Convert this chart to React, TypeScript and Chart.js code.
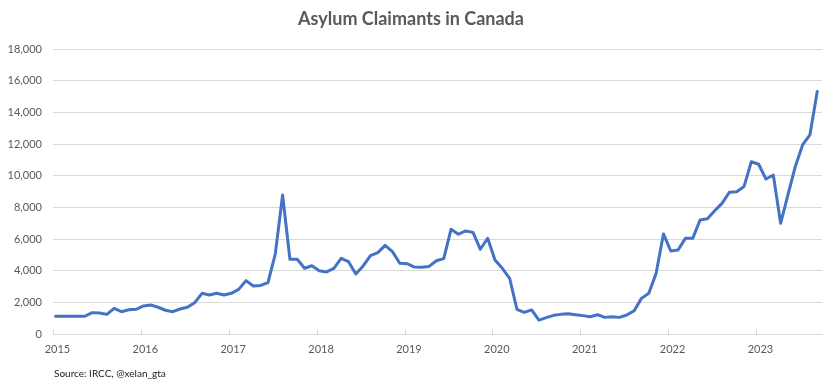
import React, { useEffect, useRef } from "react";
import { Chart, registerables } from "chart.js";

Chart.register(...registerables);

const startYear = 2015;
const yearLabels = ["2015", "2016", "2017", "2018", "2019", "2020", "2021", "2022", "2023"];
const yTicks = [0, 2000, 4000, 6000, 8000, 10000, 12000, 14000, 16000, 18000];

// Monthly asylum claimants, Jan 2015 – Sep 2023
const claims2015 = [1120, 1120, 1120, 1120, 1120, 1350, 1330, 1240, 1620, 1410, 1530, 1560];
const claims2016 = [1770, 1830, 1690, 1500, 1410, 1580, 1690, 1980, 2570, 2460, 2570, 2460];
const claims2017 = [2570, 2820, 3370, 3030, 3070, 3240, 5050, 8780, 4720, 4720, 4150, 4310];
const claims2018 = [4000, 3920, 4150, 4780, 4570, 3790, 4300, 4950, 5140, 5600, 5200, 4470];
const claims2019 = [4440, 4230, 4210, 4270, 4630, 4760, 6610, 6300, 6510, 6420, 5350, 6050];
const claims2020 = [4670, 4150, 3520, 1560, 1370, 1520, 880, 1030, 1180, 1240, 1280, 1220];
const claims2021 = [1160, 1090, 1220, 1050, 1090, 1050, 1200, 1470, 2250, 2570, 3830, 6320];
const claims2022 = [5240, 5310, 6040, 6040, 7200, 7280, 7790, 8250, 8950, 8990, 9310, 10880];
const claims2023 = [10720, 9790, 10040, 6990, 8780, 10570, 11940, 12570, 15310];

const claimants = [
  ...claims2015, ...claims2016, ...claims2017, ...claims2018, ...claims2019,
  ...claims2020, ...claims2021, ...claims2022, ...claims2023,
];

const TEXT = "#595959";
const GRID = "#d9d9d9";
const FONT = "Lato, 'Liberation Sans', sans-serif";

const yearTickMarks = {
  id: "yearTickMarks",
  afterDatasetsDraw(chart: any) {
    const { ctx, chartArea, scales } = chart;
    const x = scales.x;
    ctx.save();
    ctx.strokeStyle = GRID;
    ctx.lineWidth = 1;
    for (let k = 0; k < yearLabels.length; k++) {
      const px = Math.round(x.getPixelForValue(k * 12)) + 0.5;
      ctx.beginPath();
      ctx.moveTo(px, chartArea.bottom - 5);
      ctx.lineTo(px, chartArea.bottom);
      ctx.stroke();
    }
    ctx.restore();
  },
};

const sourceNote = {
  id: "sourceNote",
  afterDraw(chart: any) {
    const { ctx } = chart;
    ctx.save();
    ctx.fillStyle = "#1a1a1a";
    ctx.font = `10px ${FONT}`;
    ctx.textBaseline = "middle";
    ctx.textAlign = "left";
    ctx.fillText("Source: IRCC, @xelan_gta", 54, 374);
    ctx.restore();
  },
};

export default function App() {
  const ref = useRef<HTMLCanvasElement | null>(null);

  useEffect(() => {
    if (!ref.current) return;
    const points = claimants.map((v, i) => ({ x: i + 0.35, y: v }));
    const chart = new Chart(ref.current, {
      type: "line",
      data: {
        datasets: [
          {
            label: "Asylum claimants",
            data: points,
            borderColor: "#4472C4",
            borderWidth: 3,
            pointRadius: 0,
            tension: 0,
            borderJoinStyle: "round",
            borderCapStyle: "round",
            fill: false,
          },
        ],
      },
      options: {
        responsive: false,
        animation: false,
        devicePixelRatio: 1,
        layout: { padding: { top: 0, right: 14, bottom: 0, left: 0 } },
        plugins: {
          legend: { display: false },
          tooltip: { enabled: false },
          title: {
            display: true,
            text: "Asylum Claimants in Canada",
            color: TEXT,
            font: { family: FONT, size: 18, weight: "bold" },
            padding: { top: 8, bottom: 19.4 },
          },
        },
        scales: {
          x: {
            type: "linear",
            min: 0,
            max: 105,
            afterBuildTicks: (scale: any) => {
              scale.ticks = yearLabels.map((_, k) => ({ value: k * 12 + 0.6 }));
            },
            afterFit: (scale: any) => {
              scale.height = 53;
            },
            ticks: {
              autoSkip: false,
              maxRotation: 0,
              color: TEXT,
              font: { family: FONT, size: 11 },
              padding: 9,
              callback: (value: any) => String(startYear + Math.round((Number(value) - 0.6) / 12)),
            },
            grid: { display: false, drawTicks: false },
            border: { display: true, color: GRID, width: 1 },
          },
          y: {
            min: 0,
            max: 18000,
            afterBuildTicks: (scale: any) => {
              scale.ticks = yTicks.map((v) => ({ value: v }));
            },
            afterFit: (scale: any) => {
              scale.width = 53;
            },
            ticks: {
              color: TEXT,
              font: { family: FONT, size: 11 },
              padding: 11,
              callback: (value: any) => Number(value).toLocaleString("en-US"),
            },
            grid: { color: GRID, lineWidth: 1, drawTicks: false },
            border: { display: false },
          },
        },
      },
      plugins: [yearTickMarks, sourceNote],
    });
    return () => chart.destroy();
  }, []);

  return (
    <div style={{ position: "fixed", left: 0, top: 0, width: 836, height: 387, background: "#fff" }}>
      <canvas ref={ref} width={836} height={387} />
    </div>
  );
}
